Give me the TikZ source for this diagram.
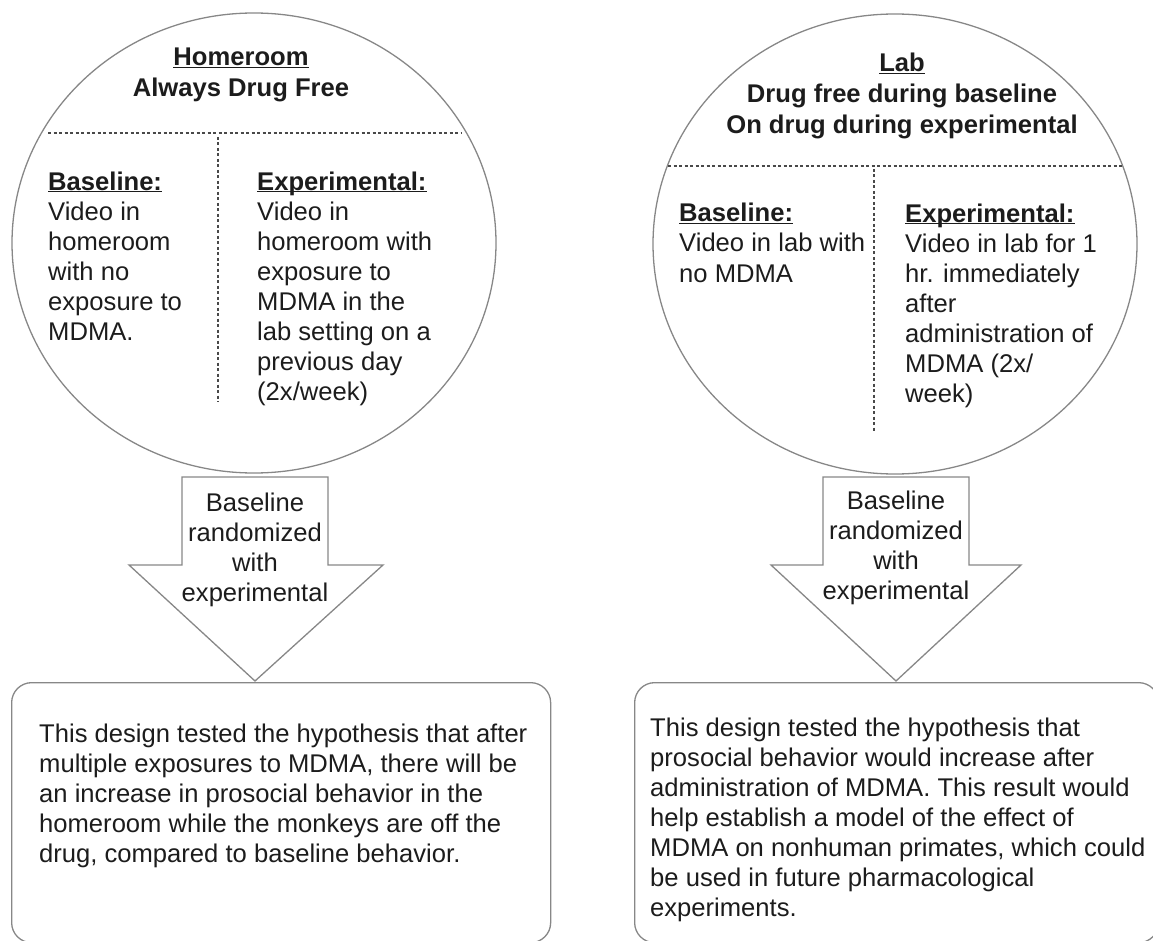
\documentclass[tikz,border=0pt]{standalone}
\usepackage{fontspec}
\setmainfont{Liberation Sans}
\usetikzlibrary{shapes.geometric}
\definecolor{edgegray}{RGB}{135,135,135}
\definecolor{inkgray}{RGB}{28,28,28}
\newcommand{\hdrline}[1]{\underline{\raisebox{0pt}[\height][0pt]{#1}}}
\tikzset{
	txt/.style={inner sep=0pt, align=left, text=inkgray, font=\fontsize{25.6}{30}\selectfont},
	ttl/.style={txt, align=center, font=\fontsize{25.6}{31}\selectfont\bfseries},
	oval/.style={draw=edgegray, line width=1.3pt, ellipse, minimum width=484pt, minimum height=460pt, inner sep=0pt},
	card/.style={draw=edgegray, line width=1.3pt, rounded corners=20pt, anchor=north west, inner sep=0pt},
	split/.style={draw=inkgray!80, line width=1.1pt, dash pattern=on 3pt off 2.5pt},
	blockarrow/.style={draw=edgegray, line width=1.3pt, line join=miter}
}
\begin{document}
\begin{tikzpicture}[x=1pt, y=-1pt]
	\useasboundingbox (0,0) rectangle (1153,941);
	\node[oval] (H) at (254,243) {};
	\node[oval] (L) at (895,244) {};
	\node[ttl, anchor=base] (HT) at (241,97) {\hdrline{Homeroom}\\Always Drug Free};
	\node[ttl, anchor=base] (LT) at (902,134) {\hdrline{Lab}\\Drug free during baseline\\On drug during experimental};
	\draw[split] (48,133) -- (462,133);
	\draw[split] (218,137) -- (218,402);
	\draw[split] (668,166) -- (1123,166);
	\draw[split] (874,169) -- (874,432);
	\node[txt, anchor=base west] (HB) at (48,340) {\textbf{\hdrline{Baseline:}}\\Video in\\homeroom\\with no\\exposure to\\MDMA.};
	\node[txt, anchor=base west] (HE) at (257,400) {\textbf{\hdrline{Experimental:}}\\Video in\\homeroom with\\exposure to\\MDMA in the\\lab setting on a\\previous day\\(2x/week)};
	\node[txt, anchor=base west] (LB) at (679,282) {\textbf{\hdrline{Baseline:}}\\Video in lab with\\no MDMA};
	\node[txt, anchor=base west] (LE) at (905,402) {\textbf{\hdrline{Experimental:}}\\Video in lab for 1\\hr. immediately\\after\\administration of\\MDMA (2x/\\week)};
	\draw[blockarrow] (182,477) -- (328,477) -- (328,565) -- (383,565) -- (255,681) -- (129,565) -- (182,565) -- cycle;
	\draw[blockarrow] (823,477) -- (969,477) -- (969,565) -- (1021,565) -- (896,681) -- (771,565) -- (823,565) -- cycle;
	\node[txt, align=center, anchor=base] (HA) at (255,601) {Baseline\\randomized\\with\\experimental};
	\node[txt, align=center, anchor=base] (LA) at (896,599) {Baseline\\randomized\\with\\experimental};
	\node[card, minimum width=539pt, minimum height=260pt] (HX) at (11,682) {};
	\node[card, minimum width=524pt, minimum height=260pt] (LX) at (634,682) {};
	\node[txt, anchor=base west] (HXT) at (39,862) {This design tested the hypothesis that after\\multiple exposures to MDMA, there will be\\an increase in prosocial behavior in the\\homeroom while the monkeys are off the\\drug, compared to baseline behavior.};
	\node[txt, anchor=base west] (LXT) at (650,916) {This design tested the hypothesis that\\prosocial behavior would increase after\\administration of MDMA. This result would\\help establish a model of the effect of\\MDMA on nonhuman primates, which could\\be used in future pharmacological\\experiments.};
\end{tikzpicture}
\end{document}
